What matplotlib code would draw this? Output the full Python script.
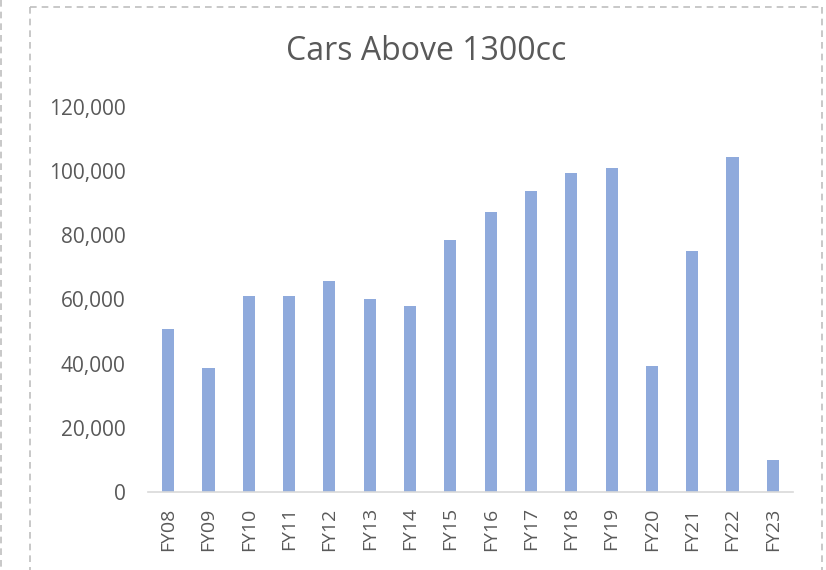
import matplotlib
matplotlib.use('Agg')
import matplotlib.pyplot as plt
from matplotlib.lines import Line2D
from matplotlib.ticker import FuncFormatter

# data
years = ['FY08', 'FY09', 'FY10', 'FY11', 'FY12', 'FY13', 'FY14', 'FY15',
         'FY16', 'FY17', 'FY18', 'FY19', 'FY20', 'FY21', 'FY22', 'FY23']
cars = [50800, 38700, 61100, 61200, 65800, 60100, 58000, 78500,
        87300, 93900, 99300, 101100, 39300, 75100, 104500, 10000]

text_col = '#595959'
plt.rcParams['font.family'] = ['Open Sans', 'DejaVu Sans']

fig = plt.figure(figsize=(8.26, 5.70), dpi=100)
ax = fig.add_axes([148/826, 1-492/570, (793-148)/826, (492-107)/570])

ax.bar(range(len(years)), cars, width=0.3, color='#8FAADC')
ax.set_xlim(-0.5, len(years)-0.5)
ax.set_ylim(0, 120000)
ax.set_yticks(range(0, 120001, 20000))
ax.yaxis.set_major_formatter(FuncFormatter(lambda v, p: f'{int(v):,}'))
ax.set_xticks(range(len(years)))
ax.set_xticklabels(years, rotation=90)

for s in ['top', 'right', 'left']:
    ax.spines[s].set_visible(False)
ax.spines['bottom'].set_color('#D9D9D9')
ax.spines['bottom'].set_linewidth(1.2)
ax.tick_params(axis='both', length=0, labelsize=15, colors=text_col)
ax.tick_params(axis='x', pad=11, labelsize=14)
ax.tick_params(axis='y', pad=16)

fig.text(426/826, 1-52/570, 'Cars Above 1300cc', ha='center', va='center',
         fontsize=23, color=text_col)

# dashed frame around the chart
dash = dict(color='#BFBFBF', linestyle=(0, (4, 3)), linewidth=1.2)
W, H = 826, 570
fig.add_artist(Line2D([30/W, 822/W], [1-7/H, 1-7/H], **dash))
fig.add_artist(Line2D([30/W, 30/W], [1-7/H, 0], **dash))
fig.add_artist(Line2D([822/W, 822/W], [1-7/H, 0], **dash))
fig.add_artist(Line2D([1/W, 1/W], [1, 0], **dash))

fig.savefig('out.png', dpi=100)
